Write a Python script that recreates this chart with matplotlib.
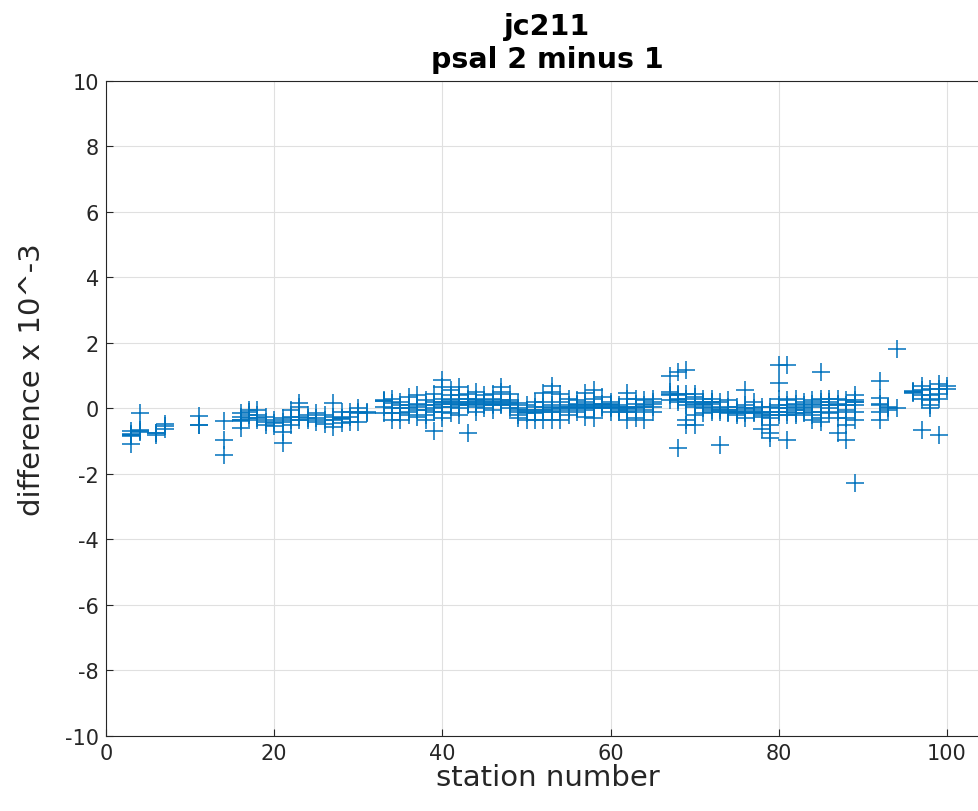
import numpy as np
import matplotlib
matplotlib.use("Agg")
import matplotlib.pyplot as plt

# psal sensor 2 minus sensor 1, per station (units of 1e-3)
stations = [3, 4, 6, 7, 11, 14, 16, 17, 18, 19, 20, 21, 22, 23, 24, 25, 26, 27,
            28, 29, 30, 31, 33, 34, 35, 36, 37, 38, 39, 40, 41, 42, 43, 44, 45,
            46, 47, 48, 49, 50, 51, 52, 53, 54, 55, 56, 57, 58, 59, 60, 61, 62,
            63, 64, 65, 67, 68, 69, 70, 71, 72, 73, 74, 75, 76, 77, 78, 79, 80,
            81, 82, 83, 84, 85, 86, 87, 88, 89, 92, 93, 94, 96, 97, 98, 99, 100]

diffs = [
    [-0.82, -0.82, -0.85, -0.80, -0.78, -1.10, -0.70],
    [-0.15, -0.65, -0.72, -0.70],
    [-0.74, -0.76, -0.80],
    [-0.48, -0.55, -0.62],
    [-0.23, -0.50, -0.52],
    [-0.38, -0.97, -1.42],
    [-0.36, -0.36, -0.38, -0.15, -0.25, -0.60],
    [-0.05, -0.10, -0.20, -0.30],
    [-0.05, -0.20, -0.35, -0.30],
    [-0.25, -0.40, -0.50],
    [-0.35, -0.45, -0.55],
    [-0.29, -0.40, -0.71, -1.06],
    [-0.05, -0.25, -0.50, -0.35],
    [0.16, 0.05, -0.25, -0.35],
    [-0.20, -0.35, -0.30],
    [-0.15, -0.40, -0.30],
    [-0.20, -0.46, -0.35],
    [0.18, -0.25, -0.35, -0.56],
    [-0.30, -0.30, -0.32, -0.10, -0.45],
    [-0.10, -0.26, -0.40],
    [-0.12, -0.15, -0.40, 0.00],
    [-0.15, -0.12],
    [0.24, 0.24, 0.25, 0.05, -0.15],
    [0.16, 0.00, -0.15, -0.35, 0.30],
    [0.20, 0.00, -0.15, -0.35, 0.10],
    [0.35, 0.10, 0.00, -0.10, -0.20],
    [0.41, 0.15, 0.05, -0.05, -0.25],
    [0.25, 0.10, -0.05, -0.20, -0.35],
    [0.44, 0.20, 0.10, 0.00, -0.10, -0.68],
    [0.87, 0.67, 0.30, 0.20, 0.15, 0.05, -0.10, -0.30],
    [0.55, 0.40, 0.25, 0.20, 0.15, 0.05, -0.15],
    [0.64, 0.40, 0.30, 0.20, 0.15, 0.10, 0.00, -0.20],
    [0.45, 0.30, 0.20, 0.15, 0.10, -0.76],
    [0.49, 0.30, 0.25, 0.20, 0.15, 0.05, -0.10],
    [0.40, 0.25, 0.20, 0.15, 0.10, 0.00],
    [0.45, 0.30, 0.20, 0.15, 0.10, -0.05],
    [0.64, 0.49, 0.25, 0.20, 0.15, 0.10],
    [0.45, 0.25, 0.20, 0.15, 0.10, 0.00],
    [0.16, 0.00, -0.05, -0.10, -0.20, -0.30],
    [0.10, -0.05, -0.10, -0.15, -0.35],
    [0.20, 0.05, -0.05, -0.10, -0.15, -0.35],
    [0.46, 0.20, 0.05, -0.05, -0.10, -0.35],
    [0.70, 0.50, 0.10, 0.00, -0.05, -0.10, -0.35],
    [0.45, 0.20, 0.05, 0.00, -0.10, -0.35],
    [0.30, 0.10, 0.05, 0.00, -0.05, -0.20],
    [0.25, 0.15, 0.10, 0.05, 0.00, -0.10],
    [0.46, 0.20, 0.10, 0.05, 0.00, -0.05, -0.25],
    [0.55, 0.30, 0.15, 0.10, 0.05, 0.00, -0.30],
    [0.35, 0.15, 0.10, 0.05, 0.00],
    [0.20, 0.15, 0.10, 0.05, 0.00, -0.10],
    [0.10, 0.05, 0.00, -0.05, -0.10],
    [0.46, 0.30, 0.05, 0.00, -0.05, -0.10, -0.35],
    [0.30, 0.15, 0.05, 0.00, -0.10, -0.30],
    [0.25, 0.10, 0.05, -0.05, -0.35],
    [0.30, 0.20, 0.15, 0.05, -0.10],
    [1.00, 0.50, 0.45, 0.40, 0.25],
    [1.12, 0.45, 0.40, 0.30, 0.25, 0.20, -1.22],
    [1.17, 0.45, 0.30, 0.20, 0.10, -0.35, -0.50],
    [0.45, 0.35, 0.20, 0.15, 0.05, -0.20, -0.50],
    [0.30, 0.20, 0.15, 0.10, 0.00, -0.15],
    [0.30, 0.20, 0.20, 0.15, 0.05, -0.05, -0.10],
    [0.20, 0.00, -0.05, -0.10, -1.11],
    [0.25, 0.05, -0.05, -0.10, -0.15],
    [0.05, -0.05, -0.10, -0.10, -0.15, -0.20],
    [0.56, 0.10, 0.00, -0.10, -0.15, -0.30],
    [0.20, 0.00, -0.05, -0.10, -0.15],
    [0.05, -0.10, -0.15, -0.20, -0.25, -0.62],
    [0.05, -0.10, -0.20, -0.30, -0.50, -0.76, -0.91],
    [1.33, 0.77, 0.30, 0.10, 0.00, -0.10, -0.20],
    [1.33, 0.25, 0.10, 0.00, -0.10, -0.20, -0.96],
    [0.30, 0.15, 0.05, -0.05, -0.15, -0.20],
    [0.20, 0.10, 0.00, -0.05, -0.15],
    [0.25, 0.15, 0.05, -0.10, -0.20, -0.35],
    [1.12, 0.30, 0.20, 0.10, -0.10, -0.30, -0.40],
    [0.30, 0.20, 0.10, 0.00, -0.15],
    [0.30, 0.15, 0.10, -0.10, -0.30, -0.76],
    [0.25, 0.10, -0.05, -0.30, -0.50, -0.96],
    [0.40, 0.25, 0.20, 0.20, 0.10, -0.10, -0.35, -2.28],
    [0.85, 0.31, 0.15, 0.10, -0.10, -0.35],
    [0.05, -0.05, 0.00],
    [1.82, 0.00],
    [0.50, 0.50, 0.52, 0.48],
    [0.70, 0.55, 0.40, 0.30, -0.66],
    [0.60, 0.40, 0.25, 0.10, 0.00],
    [0.75, 0.60, 0.45, 0.30, -0.81],
    [0.70, 0.60],
]

x = np.concatenate([[s] * len(d) for s, d in zip(stations, diffs)])
y = np.concatenate(diffs)

ink = "#262626"
plt.rcParams["font.family"] = "DejaVu Sans"
plt.rcParams["axes.unicode_minus"] = False

fig = plt.figure(figsize=(9.79, 8.12), dpi=100)
ax = fig.add_axes([0.1083, 0.0924, 0.902, 0.8067])

ax.plot(x, y, "+", color="#0072BD", markersize=13, markeredgewidth=1.1)

ax.set_xlim(0, 105)
ax.set_ylim(-10, 10)
ax.set_xticks(np.arange(0, 101, 20))
ax.set_yticks(np.arange(-10, 11, 2))
ax.grid(True, color="#e0e0e0", linewidth=0.8)
ax.set_axisbelow(True)
ax.tick_params(direction="in", length=5, width=0.8, colors=ink,
               labelsize=15, top=False, right=False, pad=5)
for sp in ax.spines.values():
    sp.set_color(ink)
    sp.set_linewidth(0.8)

ax.set_xlabel("station number", fontsize=21, color=ink, labelpad=0)
ax.set_ylabel("difference x 10^-3", fontsize=21, color=ink)
ax.yaxis.set_label_coords(-0.068, 0.545)
ax.set_title("jc211\npsal 2 minus 1", fontsize=20.5, fontweight="bold",
             color="black", pad=10, linespacing=1.22)

fig.savefig("out.png", dpi=100)
